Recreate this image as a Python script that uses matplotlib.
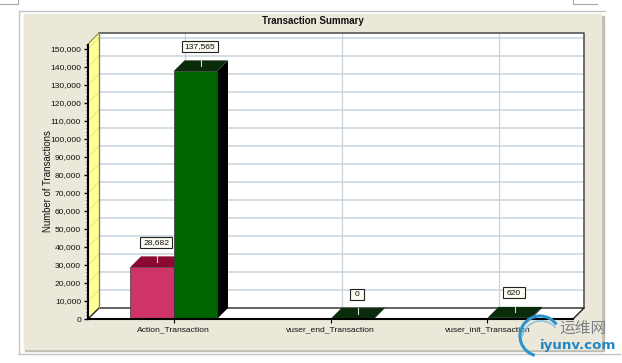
import matplotlib
matplotlib.use('Agg')
import matplotlib.pyplot as plt
from matplotlib.patches import Rectangle, Polygon, Arc
from matplotlib.ticker import FuncFormatter

categories = ['Action_Transaction', 'vuser_end_Transaction', 'vuser_init_Transaction']
red_values = [28682, None, None]
green_values = [137565, 0, 620]
y_ticks = list(range(0, 150001, 10000))
y_minor = list(range(0, 152001, 2000))

W, H = 622, 363
fig = plt.figure(figsize=(W / 100, H / 100), dpi=100, facecolor='white')
plt.rcParams['font.family'] = ['Liberation Sans', 'Noto Sans CJK SC', 'DejaVu Sans']

# whole figure in pixels, for the window frame
bg = fig.add_axes([0, 0, 1, 1], zorder=0)
bg.set_xlim(0, W)
bg.set_ylim(H, 0)
bg.axis('off')
bg.plot([19, 19, 605], [354, 10.5, 10.5], color='#c4c4c4', lw=1)
bg.plot([19, 620], [354, 354], color='#c4c4c4', lw=1)
bg.plot([0, 18, 18], [4, 4, 0], color='#a8a8a8', lw=0.8)
bg.plot([573, 573, 597], [0, 4, 4], color='#a8a8a8', lw=0.8)
bg.add_patch(Rectangle((25, 16), 579, 335, color='#bdbdb5'))
bg.add_patch(Rectangle((23.5, 14), 577.5, 335, color='#ebe8da'))

# front plane of the chart
left, right, bottom = 88, 573, 319
top = 33
ax = fig.add_axes([left / W, 1 - bottom / H, (right - left) / W, (bottom - top) / H], zorder=1)
ax.patch.set_alpha(0)
px_x = 157.0
px_y = 270.0 / 150000
ax.set_xlim(-(173.5 - left) / px_x, (right - 173.5) / px_x)
ax.set_ylim(0, (bottom - top) / px_y)
depth_x = 11 / px_x
depth_y = 11 / px_y
bar_w = 43.5 / px_x
x0, x1 = ax.get_xlim()
y1 = (bottom - top - 11) / px_y

# back wall, side wall, floor
ax.add_patch(Rectangle((x0 + depth_x, depth_y), x1 - x0, y1, fc='white', ec='none', zorder=1, clip_on=False))
ax.add_patch(Polygon([(x0, 0), (x0 + depth_x, depth_y), (x0 + depth_x, depth_y + y1), (x0, y1)],
                     fc='#ffff99', ec='none', zorder=1, clip_on=False))
ax.add_patch(Polygon([(x0, 0), (x1, 0), (x1 + depth_x, depth_y), (x0 + depth_x, depth_y)],
                     fc='white', ec='none', zorder=1, clip_on=False))
for v in y_ticks[1:]:
    ax.plot([x0 + depth_x, x1 + depth_x], [v + depth_y] * 2, color='#c8d2dc', lw=1.1, zorder=2, clip_on=False)
    ax.plot([x0, x0 + depth_x], [v, v + depth_y], color='#e6e67a', lw=0.7, zorder=2, clip_on=False)
for i in range(len(categories)):
    ax.plot([i + depth_x] * 2, [depth_y, depth_y + y1], color='#c8d2dc', lw=0.9, zorder=2, clip_on=False)

# outline of the box
ax.plot([x0 + depth_x, x1 + depth_x, x1 + depth_x], [depth_y + y1, depth_y + y1, depth_y], color='#555555', lw=1.2,
        zorder=3, clip_on=False)
ax.plot([x0, x0 + depth_x, x1 + depth_x, x1], [0, depth_y, depth_y, 0], color='#222222', lw=1, zorder=3, clip_on=False)
ax.plot([x0 + depth_x, x0 + depth_x], [depth_y, depth_y + y1], color='#8a8a40', lw=1, zorder=3, clip_on=False)
ax.plot([x0, x0 + depth_x], [y1, y1 + depth_y], color='#8a8a40', lw=0.8, zorder=3, clip_on=False)

# labels and watermark go on a pixel overlay above the chart
wm = fig.add_axes([0, 0, 1, 1], zorder=5)
wm.set_xlim(0, W)
wm.set_ylim(H, 0)
wm.axis('off')


def bar3d(x, v, front, side, topc):
    ax.add_patch(Polygon([(x + bar_w, 0), (x + bar_w + depth_x, depth_y), (x + bar_w + depth_x, v + depth_y),
                          (x + bar_w, v)], fc=side, ec='none', zorder=4, clip_on=False))
    ax.add_patch(Polygon([(x, v), (x + bar_w, v), (x + bar_w + depth_x, v + depth_y), (x + depth_x, v + depth_y)],
                         fc=topc, ec='none', zorder=4, clip_on=False))
    if v > 0:
        ax.add_patch(Rectangle((x, 0), bar_w, v, fc=front, ec='#3a3a3a', lw=0.5, zorder=4, clip_on=False))


def value_label(x, v):
    cx = x + bar_w / 2 + depth_x / 2
    cy = v + depth_y / 2
    ax.plot([cx, cx], [cy, cy + 6 / px_y], color='#d8d8d8', lw=0.8, zorder=6, clip_on=False)
    # box size follows the label length, placed above the top face
    px, py = ax.transData.transform((cx, cy))
    py = H - py
    s = f'{v:,}'
    w = len(s) * 3.5 + 11
    wm.add_patch(Rectangle((px - 1 - w / 2, py - 25), w, 11, fc='#fbfbf0', ec='#222222', lw=0.8))
    wm.text(px - 1, py - 19.3, s, ha='center', va='center', fontsize=6.1, color='#111111')


# series drawn back to front so green sits over the red top
for i, v in enumerate(red_values):
    if v is not None:
        bar3d(i - bar_w, v, '#cf3468', '#66001f', '#8c0a32')
        value_label(i - bar_w, v)
for i, v in enumerate(green_values):
    bar3d(i, v, '#006400', '#000000', '#0a2c0a')
    value_label(i, v)

# axes
for s in ['top', 'right']:
    ax.spines[s].set_visible(False)
ax.spines['left'].set_bounds(0, 152500)
ax.spines['left'].set_linewidth(1.5)
ax.spines['bottom'].set_linewidth(1.5)
ax.spines['left'].set_zorder(8)
ax.spines['bottom'].set_zorder(8)
ax.set_yticks(y_ticks)
ax.set_yticks(y_minor, minor=True)
ax.yaxis.set_major_formatter(FuncFormatter(lambda v, p: f'{int(v):,}'))
ax.tick_params(axis='y', which='major', length=3, width=1, pad=2, labelsize=6.1, labelcolor='#111111')
ax.tick_params(axis='y', which='minor', length=1.2, width=0.6)
ax.set_xticks(range(len(categories)))
ax.set_xticklabels(categories)
ax.tick_params(axis='x', length=3, width=0.8, pad=2.5, labelsize=6.1, labelcolor='#111111')
ax.set_ylabel('Number of Transactions', fontsize=6.9, color='#111111', labelpad=3)
ax.yaxis.set_label_coords(-0.073, 0.4825)

bg.text(313, 21.5, 'Transaction Summary', ha='center', va='center', fontsize=7.0, fontweight='bold', color='#111111')

# watermark
wm.add_patch(Arc((540, 336), 40, 40, theta1=105, theta2=325, color='#2c93cf', lw=2.2))
wm.add_patch(Arc((541, 340), 38, 38, theta1=190, theta2=320, color='#7cc0e6', lw=1.0))
wm.text(582.5, 329, '运维网', ha='center', va='center', fontsize=11.3, color='#7d8287')
wm.text(578.5, 346, 'iyunv.com', ha='center', va='center', fontsize=9.6, fontweight='bold', color='#1f86c8',
        family=['DejaVu Sans'])

fig.savefig('out.png', dpi=100, facecolor='white')
